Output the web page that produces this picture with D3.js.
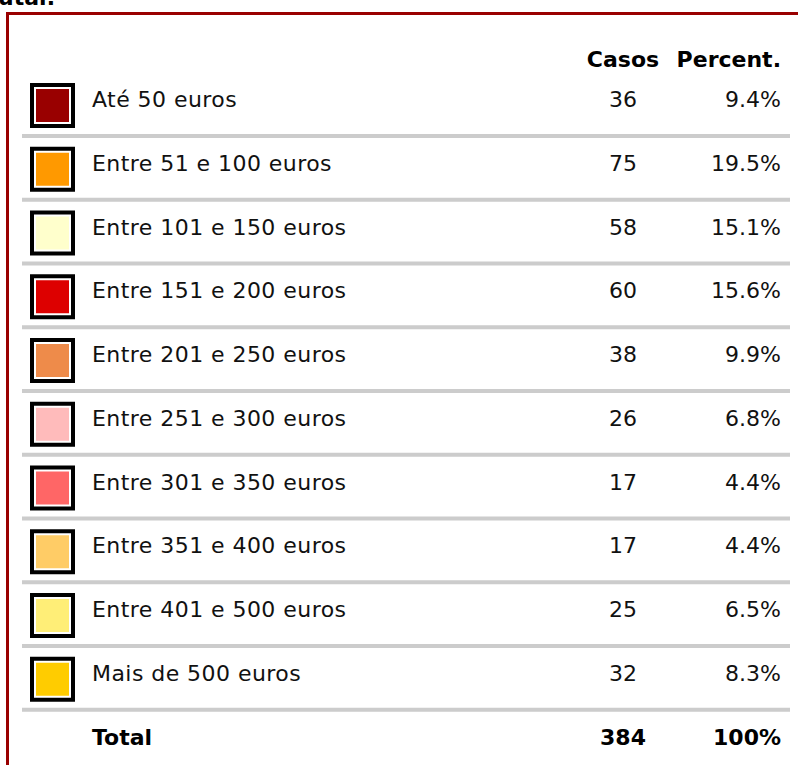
<!DOCTYPE html>
<html>
<head>
<meta charset="utf-8">
<script src="https://cdn.jsdelivr.net/npm/d3@7"></script>
<style>
  html, body { margin: 0; padding: 0; background: #fff; overflow: hidden; }
  svg { display: block; }
  text { font-family: Verdana, "DejaVu Sans", sans-serif; }
</style>
</head>
<body>
<div id="chart"></div>
<script>
// ---- data ----
const categories = [
  "Até 50 euros",
  "Entre 51 e 100 euros",
  "Entre 101 e 150 euros",
  "Entre 151 e 200 euros",
  "Entre 201 e 250 euros",
  "Entre 251 e 300 euros",
  "Entre 301 e 350 euros",
  "Entre 351 e 400 euros",
  "Entre 401 e 500 euros",
  "Mais de 500 euros"
];
const casos = [36, 75, 58, 60, 38, 26, 17, 17, 25, 32];
const percents = ["9.4%", "19.5%", "15.1%", "15.6%", "9.9%", "6.8%", "4.4%", "4.4%", "6.5%", "8.3%"];
const colors = ["#990000", "#FF9900", "#FFFFCC", "#DD0000", "#EE8B4A", "#FFBBBB", "#FF6666", "#FFCC66", "#FFEE77", "#FFCC00"];
const headers = ["Casos", "Percent."];
const totalLabel = "Total";
const totalCasos = "384";
const totalPercent = "100%";
const titleText = "utal:";

// ---- drawing ----
const W = 798, H = 765;
const FS = 22;
const svg = d3.select("#chart").append("svg").attr("width", W).attr("height", H);

// title fragment (cut off at top, as in the reference)
svg.append("text").attr("x", -2).attr("y", 5)
  .attr("font-weight", "bold").attr("font-size", FS).attr("fill", "#000")
  .text(titleText);

// frame
svg.append("path")
  .attr("d", `M7.5,${H + 10} L7.5,13.5 L${W + 10},13.5`)
  .attr("fill", "none").attr("stroke", "#990000").attr("stroke-width", 3);

const rows = categories.concat([totalLabel]);
const y = d3.scaleBand().domain(d3.range(rows.length))
  .range([73, 73 + 63.75 * rows.length]).paddingInner(0).paddingOuter(0);

const xCasos = 623, xPct = 781, xLabel = 92;

// header
svg.append("text").attr("x", xCasos).attr("y", 67).attr("text-anchor", "middle")
  .attr("font-weight", "bold").attr("font-size", FS).attr("fill", "#000").text(headers[0]);
svg.append("text").attr("x", xPct).attr("y", 67).attr("text-anchor", "end")
  .attr("font-weight", "bold").attr("font-size", FS).attr("fill", "#000").text(headers[1]);

const g = svg.append("g");
const row = g.selectAll("g.row").data(categories).join("g")
  .attr("class", "row")
  .attr("transform", (d, i) => `translate(0,${y(i)})`);

// swatch
row.append("rect").attr("x", 32).attr("y", 12).attr("width", 41).attr("height", 41)
  .attr("fill", "#fff").attr("stroke", "#000").attr("stroke-width", 4);
row.append("rect").attr("x", 36).attr("y", 16).attr("width", 33).attr("height", 33)
  .attr("fill", (d, i) => colors[i]);

row.append("text").attr("x", xLabel).attr("y", 34).attr("font-size", FS).attr("fill", "#111")
  .attr("letter-spacing", 0.45)
  .text(d => d);
row.append("text").attr("x", xCasos).attr("y", 34).attr("text-anchor", "middle")
  .attr("font-size", FS).attr("fill", "#111").text((d, i) => casos[i]);
row.append("text").attr("x", xPct).attr("y", 34).attr("text-anchor", "end")
  .attr("font-size", FS).attr("fill", "#111").text((d, i) => percents[i]);

// separators
row.append("rect").attr("x", 22).attr("y", 61).attr("width", 768).attr("height", 4)
  .attr("fill", "#CCCCCC");

// total row
const tot = g.append("g").attr("transform", `translate(0,${y(rows.length - 1)})`);
tot.append("text").attr("x", xLabel).attr("y", 34).attr("font-size", FS).attr("font-weight", "bold").attr("fill", "#000").text(totalLabel);
tot.append("text").attr("x", xCasos).attr("y", 34).attr("text-anchor", "middle").attr("font-size", FS).attr("font-weight", "bold").attr("fill", "#000").text(totalCasos);
tot.append("text").attr("x", xPct).attr("y", 34).attr("text-anchor", "end").attr("font-size", FS).attr("font-weight", "bold").attr("fill", "#000").text(totalPercent);
</script>
</body>
</html>
